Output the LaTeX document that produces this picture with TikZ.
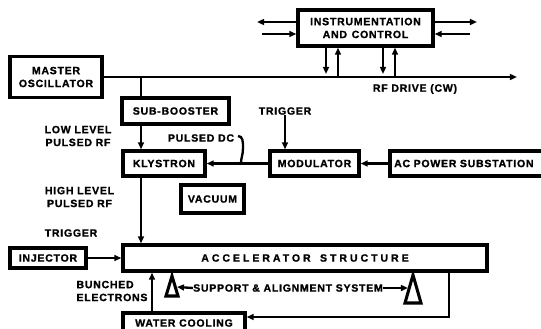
\documentclass[tikz,border=0pt]{standalone}
\usepackage{fontspec}
\setsansfont[LetterSpace=7, BoldFeatures={FakeBold=1.2}]{Liberation Sans}
\usetikzlibrary{arrows.meta}

\begin{document}
\begin{tikzpicture}[x=0.03cm, y=-0.03cm]
	\tikzset{blocco/.style={draw, line width=2.8pt, inner sep=0pt, align=center, font=\sffamily\bfseries\fontsize{9}{11}\selectfont},
		etich/.style={inner sep=0pt, align=center, font=\sffamily\bfseries\fontsize{9}{11}\selectfont},
		linea/.style={line width=2pt},
		freccia/.style={linea, -{Triangle[length=6pt, width=5pt]}}}
	\useasboundingbox (0,0) rectangle (541,328);

	% Blocchi principali
	\node[blocco, minimum width=2.76cm, minimum height=1.23cm] (osc) at (56,77) {MASTER\\OSCILLATOR};
	\node[blocco, minimum width=4.05cm, minimum height=1.08cm] (inst) at (365.5,28) {INSTRUMENTATION\\AND\hspace{4pt}CONTROL};
	\node[blocco, minimum width=3.21cm, minimum height=0.78cm] (sub) at (175.5,111) {SUB-BOOSTER};
	\node[blocco, minimum width=2.46cm, minimum height=0.75cm] (kly) at (164,163.5) {KLYSTRON};
	\node[blocco, minimum width=2.67cm, minimum height=0.75cm] (mod) at (314.5,163.5) {MODULATOR};
	\node[blocco, minimum width=4.65cm, minimum height=0.75cm, text width=4.4cm, align=left] (ac) at (467.5,163.5) {AC POWER SUBSTATION};
	\node[blocco, minimum width=1.89cm, minimum height=0.84cm] (vac) at (212.5,199) {VACUUM};
	\node[blocco, minimum width=2.28cm, minimum height=0.6cm] (inj) at (48,258) {INJECTOR};
	\node[blocco, minimum width=10.92cm, minimum height=0.78cm] (acc) at (305,258) {\addfontfeature{LetterSpace=28}ACCELERATOR\hspace{8pt}STRUCTURE};
	\node[blocco, minimum width=3.66cm, minimum height=0.6cm] (wat) at (184,323) {WATER COOLING};

	% Etichette
	\node[etich] (rfdrive) at (415,89) {RF DRIVE (CW)};
	\node[etich] (lowrf) at (78,136) {LOW LEVEL\\PULSED RF};
	\node[etich] (pdc) at (201,138) {PULSED DC};
	\node[etich] (trigmod) at (285,111) {TRIGGER};
	\node[etich] (highrf) at (79.5,197) {HIGH LEVEL\\PULSED RF};
	\node[etich] (triginj) at (71,233) {TRIGGER};
	\node[etich, align=left] (bunch) at (112,291) {BUNCHED\\ELECTRONS};
	\node[etich] (supporto) at (288,288) {SUPPORT \& ALIGNMENT SYSTEM};

	% Punti ausiliari
	\coordinate (presa) at (141,77);
	\coordinate (rffine) at (517,77);
	\coordinate (parent) at (238,136);
	\coordinate (bunx) at (152,0);
	\coordinate (ritorno) at (449,317);
	\coordinate (supsx) at (177,287);
	\coordinate (supdx) at (408,288);
	\coordinate (isx1) at (257,22);
	\coordinate (isx2) at (262,34);
	\coordinate (idx1) at (477,22);
	\coordinate (idx2) at (470,34);

	% Linea RF e catena di potenza
	\draw[freccia] (osc.east) -- (rffine);
	\draw[linea] (presa) -- (sub.north -| presa);
	\draw[freccia] (sub.south -| presa) -- (kly.north -| presa);
	\draw[freccia] (kly.south -| presa) -- (acc.north -| presa);
	\draw[freccia] (mod) -- (kly);
	\draw[freccia] (ac) -- (mod);
	\draw[freccia] (trigmod.south) -- (trigmod.south |- mod.north);
	\draw[linea] (parent) .. controls (243,136) and (243,142) .. (243,148) .. controls (243,155) and (241,158) .. (241,163);

	% Strumentazione
	\draw[freccia] (isx1 -| inst.west) -- (isx1);
	\draw[freccia] (isx2) -- (isx2 -| inst.west);
	\draw[freccia] (idx1 -| inst.east) -- (idx1);
	\draw[freccia] (idx2) -- (idx2 -| inst.east);
	\foreach \xa/\xb in {326/338, 383/395} {
		\draw[freccia] (inst.south -| \xa,0) -- (\xa,74);
		\draw[freccia] (\xb,77) -- (inst.south -| \xb,0);
	}

	% Iniettore, supporti e raffreddamento
	\draw[freccia] (inj.east) -- (acc.west);
	\draw[freccia] (wat.north -| bunx) -- (acc.south -| bunx);
	\draw[line width=2.6pt, line join=miter] (172,276) -- (166,296) -- (178,296) -- cycle;
	\draw[line width=2.6pt, line join=miter] (413,275) -- (405,303) -- (421,303) -- cycle;
	\draw[freccia] (supporto.west) -- (supsx);
	\draw[freccia] (supporto.east) -- (supdx);
	\draw[freccia] (acc.south -| ritorno) -- (ritorno) -- (ritorno -| wat.east);
\end{tikzpicture}
\end{document}
